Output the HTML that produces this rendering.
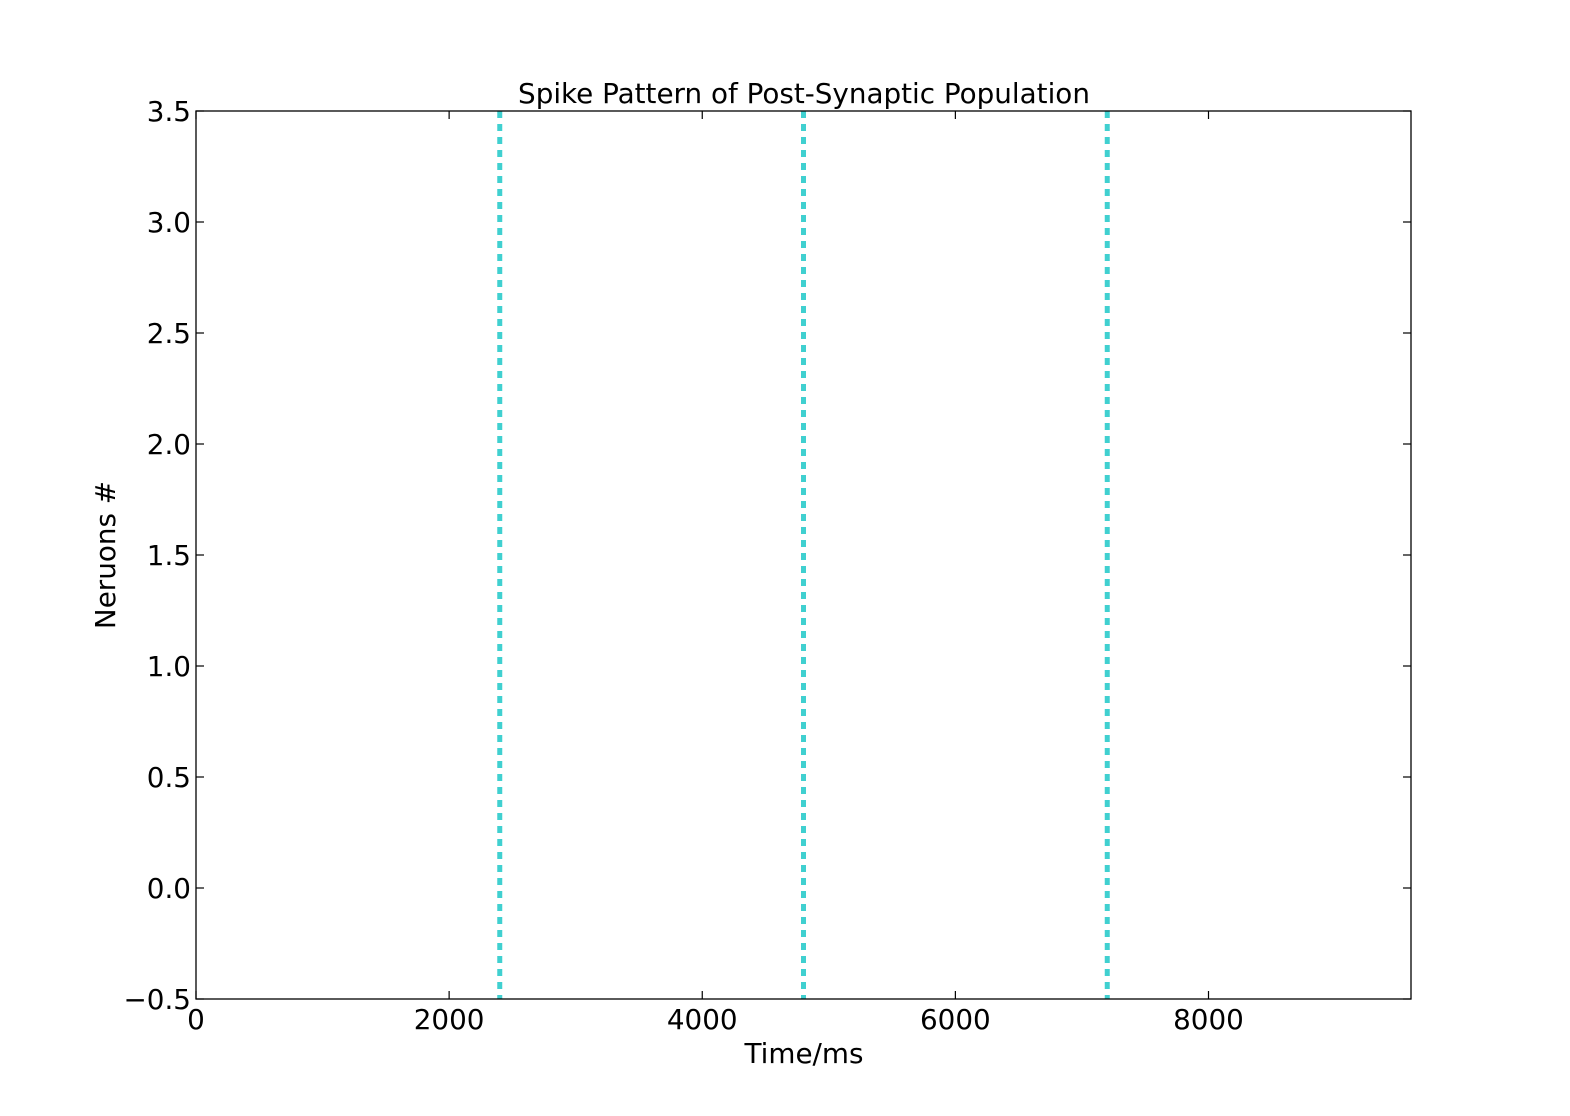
<!DOCTYPE html>
<html><head><meta charset="utf-8"><style>
html,body{margin:0;padding:0;background:#fff;}
svg text{font-family:"DejaVu Sans","Liberation Sans",sans-serif;fill:#000;}
</style></head><body>
<svg id="chart" width="1570" height="1111">
<rect x="0" y="0" width="1570" height="1111" fill="#fff"/>
<g id="marks"></g>
<g id="axes"></g>
<rect x="196" y="111" width="1215" height="888" fill="none" stroke="#000" stroke-width="1.3"/>
<text x="804" y="103" font-size="27.8" text-anchor="middle">Spike Pattern of Post-Synaptic Population</text>
<text x="804" y="1063" font-size="27.8" text-anchor="middle">Time/ms</text>
<text transform="translate(115,555) rotate(-90)" font-size="27.8" text-anchor="middle">Neruons #</text>
</svg>
<script>
const spikeTimes = [2400, 4800, 7200];
const xTicks = [0, 2000, 4000, 6000, 8000];
const yTicks = [-0.5, 0.0, 0.5, 1.0, 1.5, 2.0, 2.5, 3.0, 3.5];
const yTickLabels = ["\u22120.5","0.0","0.5","1.0","1.5","2.0","2.5","3.0","3.5"];
const xDomain = [0, 9600];
const yDomain = [-0.5, 3.5];
const L=196,R=1411,T=111,B=999;
function sx(v){return L+(v-xDomain[0])/(xDomain[1]-xDomain[0])*(R-L);}
function sy(v){return B-(v-yDomain[0])/(yDomain[1]-yDomain[0])*(B-T);}
const NS="http://www.w3.org/2000/svg";
const marks=document.getElementById('marks'), axes=document.getElementById('axes');
spikeTimes.forEach(t=>{
  const l=document.createElementNS(NS,'line');
  l.setAttribute('x1',sx(t));l.setAttribute('x2',sx(t));
  l.setAttribute('y1',T);l.setAttribute('y2',B);
  l.setAttribute('stroke','#40d0d0');l.setAttribute('stroke-width','5');
  l.setAttribute('stroke-dasharray','7 6');
  
  
  marks.appendChild(l);
});
xTicks.forEach(v=>{
  const x=sx(v);
  [[B,B-8],[T,T+8]].forEach(p=>{
    const l=document.createElementNS(NS,'line');
    l.setAttribute('x1',x);l.setAttribute('x2',x);l.setAttribute('y1',p[0]);l.setAttribute('y2',p[1]);
    l.setAttribute('stroke','#000');l.setAttribute('stroke-width','1.2');
    
    
    axes.appendChild(l);
  });
  const tx=document.createElementNS(NS,'text');
  tx.setAttribute('x',x);tx.setAttribute('y',1029);tx.setAttribute('font-size','27.8');tx.setAttribute('text-anchor','middle');
  tx.textContent=String(v);
  
  
  axes.appendChild(tx);
});
yTicks.forEach((v,i)=>{
  const y=sy(v);
  [[L,L+8],[R,R-8]].forEach(p=>{
    const l=document.createElementNS(NS,'line');
    l.setAttribute('x1',p[0]);l.setAttribute('x2',p[1]);l.setAttribute('y1',y);l.setAttribute('y2',y);
    l.setAttribute('stroke','#000');l.setAttribute('stroke-width','1.2');
    
    
    axes.appendChild(l);
  });
  const tx=document.createElementNS(NS,'text');
  tx.setAttribute('x',191);tx.setAttribute('y',y+10);tx.setAttribute('font-size','27.8');tx.setAttribute('text-anchor','end');
  tx.textContent=yTickLabels[i];
  
  
  axes.appendChild(tx);
});
</script>
</body></html>
